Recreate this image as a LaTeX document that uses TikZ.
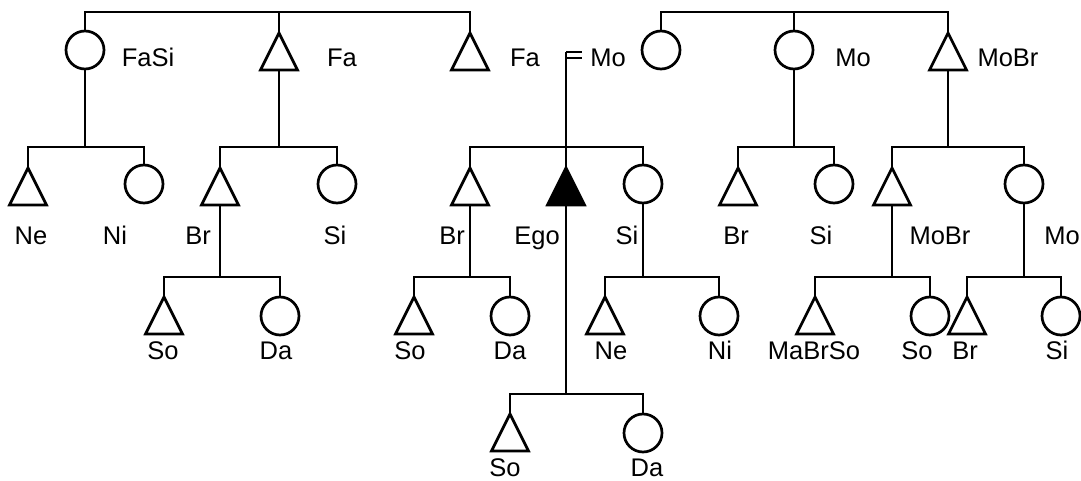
\documentclass[tikz,border=0pt]{standalone}
\usepackage{fontspec}
\setmainfont{Liberation Sans}
\usetikzlibrary{shapes.geometric}

\begin{document}
\begin{tikzpicture}[
    x = 1pt, y = -1pt,
    line width = 2.7pt,
    every node/.style = {font = \fontsize{25.5}{30}\selectfont},
    male/.style = {draw, isosceles triangle, isosceles triangle stretches,
        shape border rotate = 90, minimum width = 37pt, minimum height = 37pt,
        inner sep = 0pt, outer sep = 0pt, anchor = apex},
    female/.style = {draw, circle, minimum size = 38pt,
        inner sep = 0pt, outer sep = 0pt},
    ego/.style = {male, fill = black},
    kin/.style = {anchor = base, inner sep = 0pt}]

\useasboundingbox (0,0) rectangle (1081,481);

% generation bars
\coordinate (g1) at (0,12);
\coordinate (g2) at (0,147);
\coordinate (g3) at (0,277);
\coordinate (g4) at (0,394);
\coordinate (wed) at (566,52);

% parents' generation
\node[female] (fasi) at (85,50) {};
\node[male]   (fab)  at (279,33) {};
\node[male]   (fa)   at (470,33) {};
\node[female] (mo)   at (661,50) {};
\node[female] (mosi) at (794,50) {};
\node[male]   (mobr) at (948,33) {};

% ego's generation
\node[male]   (ne1)  at (28,168) {};
\node[female] (ni1)  at (144,184) {};
\node[male]   (br1)  at (220,168) {};
\node[female] (si1)  at (337,184) {};
\node[male]   (br2)  at (470,168) {};
\node[ego]    (ego)  at (566,168) {};
\node[female] (si2)  at (643,184) {};
\node[male]   (br3)  at (738,168) {};
\node[female] (si3)  at (834,184) {};
\node[male]   (br4)  at (892,168) {};
\node[female] (si4)  at (1024,184) {};

% children
\node[male]   (so1)  at (164,297) {};
\node[female] (da1)  at (280,316) {};
\node[male]   (so2)  at (414,297) {};
\node[female] (da2)  at (510,316) {};
\node[male]   (ne2)  at (605,297) {};
\node[female] (ni2)  at (719,316) {};
\node[male]   (so3)  at (815,297) {};
\node[female] (da3)  at (930,316) {};
\node[male]   (so4)  at (967,297) {};
\node[female] (da4)  at (1061,316) {};
\node[male]   (so5)  at (510,414) {};
\node[female] (da5)  at (643,433) {};

\draw (fasi.north) -- (fasi.north |- g1) -- (fa.apex |- g1) -- (fa.apex)
      (fab.apex) -- (fab.apex |- g1)
      (mo.north) -- (mo.north |- g1) -- (mobr.apex |- g1) -- (mobr.apex)
      (mosi.north) -- (mosi.north |- g1);
\draw (fasi.south) -- (fasi.south |- g2)
      (ne1.apex) -- (ne1.apex |- g2) -- (ni1.north |- g2) -- (ni1.north)
      (fab.lower side) -- (fab.lower side |- g2)
      (br1.apex) -- (br1.apex |- g2) -- (si1.north |- g2) -- (si1.north)
      (wed) -- (ego.apex)
      (br2.apex) -- (br2.apex |- g2) -- (si2.north |- g2) -- (si2.north)
      (mosi.south) -- (mosi.south |- g2)
      (br3.apex) -- (br3.apex |- g2) -- (si3.north |- g2) -- (si3.north)
      (mobr.lower side) -- (mobr.lower side |- g2)
      (br4.apex) -- (br4.apex |- g2) -- (si4.north |- g2) -- (si4.north);
\draw (wed) -- ++(16,0)
      (wed) ++(0,6) -- ++(16,0);
\draw (br1.lower side) -- (br1.lower side |- g3)
      (so1.apex) -- (so1.apex |- g3) -- (da1.north |- g3) -- (da1.north)
      (br2.lower side) -- (br2.lower side |- g3)
      (so2.apex) -- (so2.apex |- g3) -- (da2.north |- g3) -- (da2.north)
      (si2.south) -- (si2.south |- g3)
      (ne2.apex) -- (ne2.apex |- g3) -- (ni2.north |- g3) -- (ni2.north)
      (br4.lower side) -- (br4.lower side |- g3)
      (so3.apex) -- (so3.apex |- g3) -- (da3.north |- g3) -- (da3.north)
      (si4.south) -- (si4.south |- g3)
      (so4.apex) -- (so4.apex |- g3) -- (da4.north |- g3) -- (da4.north);
\draw (ego.lower side) -- (ego.lower side |- g4)
      (so5.apex) -- (so5.apex |- g4) -- (da5.north |- g4) -- (da5.north);

\path (148,67) node[kin] (lfasi) {FaSi}
      (342,67) node[kin] (lfab) {Fa}
      (525,67) node[kin] (lfa) {Fa}
      (608,67) node[kin] (lmo) {Mo}
      (853,67) node[kin] (lmosi) {Mo}
      (1008,67) node[kin] (lmobr) {MoBr};
\path (31,244) node[kin] (lne1) {Ne}
      (115,244) node[kin] (lni1) {Ni}
      (198,244) node[kin] (lbr1) {Br}
      (335,244) node[kin] (lsi1) {Si}
      (452,244) node[kin] (lbr2) {Br}
      (537,244) node[kin] (lego) {Ego}
      (627,244) node[kin] (lsi2) {Si}
      (736,244) node[kin] (lbr3) {Br}
      (821,244) node[kin] (lsi3) {Si}
      (940,244) node[kin] (lbr4) {MoBr}
      (1062,244) node[kin] (lsi4) {Mo};
\path (163,359) node[kin] (lso1) {So}
      (276,359) node[kin] (lda1) {Da}
      (410,359) node[kin] (lso2) {So}
      (510,359) node[kin] (lda2) {Da}
      (611,359) node[kin] (lne2) {Ne}
      (720,359) node[kin] (lni2) {Ni}
      (814,359) node[kin] (lso3) {MaBrSo}
      (917,359) node[kin] (lda3) {So}
      (965,359) node[kin] (lso4) {Br}
      (1057,359) node[kin] (lda4) {Si};
\path (505,476) node[kin] (lso5) {So}
      (647,476) node[kin] (lda5) {Da};
\end{tikzpicture}
\end{document}
